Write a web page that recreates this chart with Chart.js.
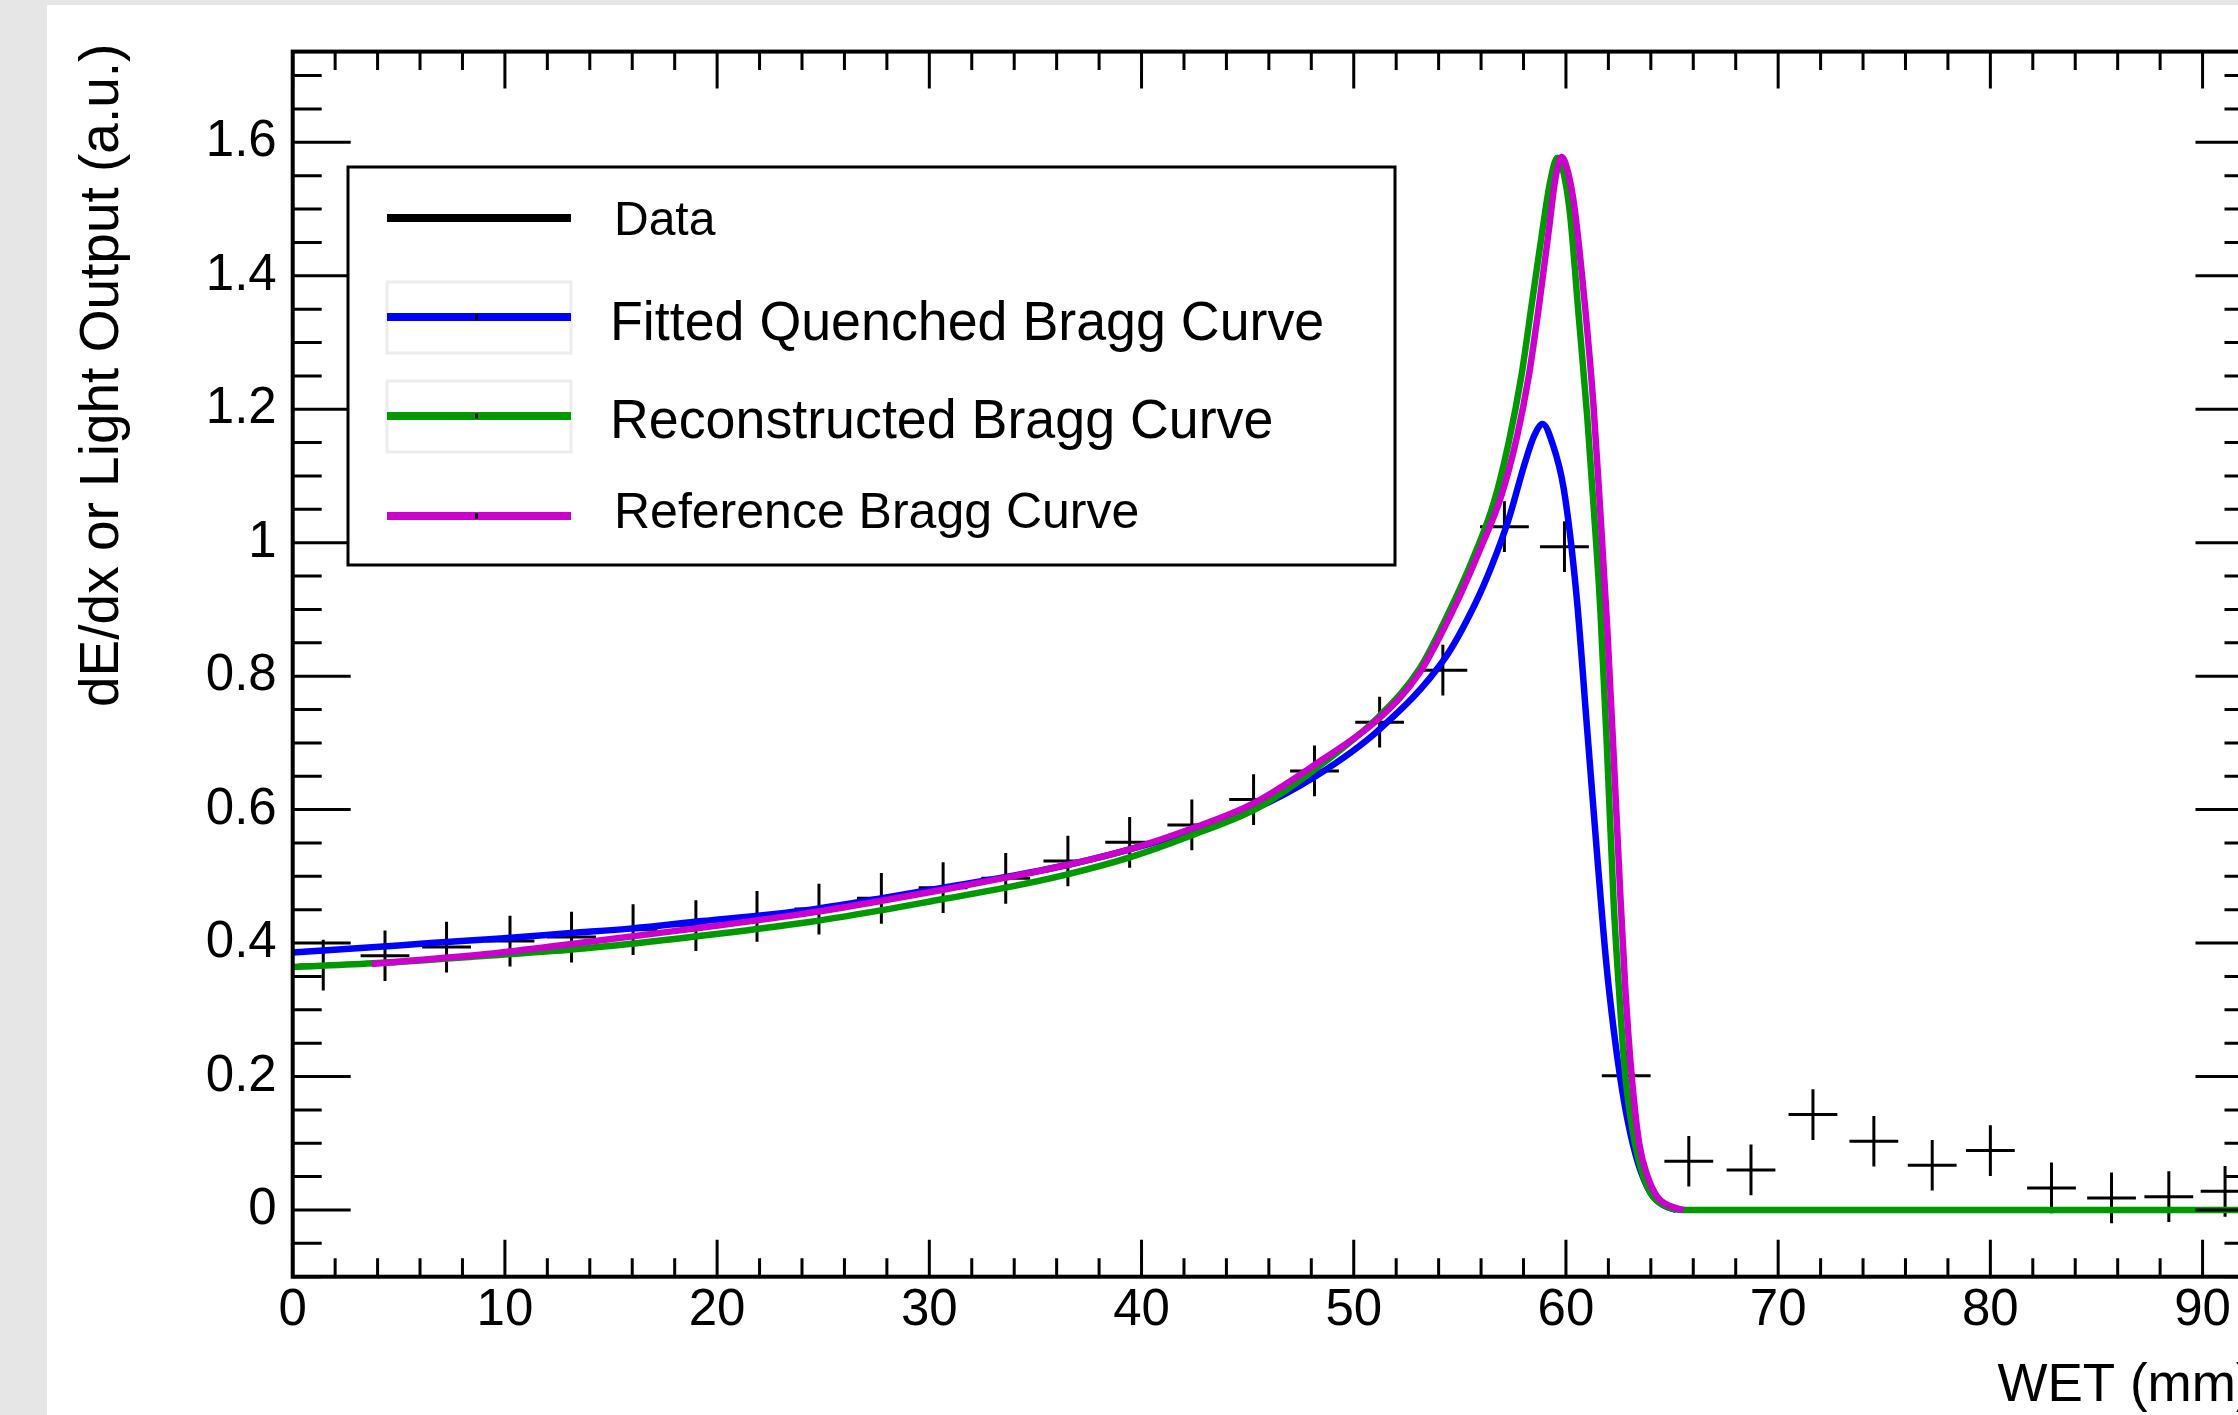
<!DOCTYPE html>
<html>
<head>
<meta charset="utf-8">
<title>Bragg curve</title>
<script src="https://cdn.jsdelivr.net/npm/chart.js@4.4.0/dist/chart.umd.min.js"></script>
<style>
  html, body { margin: 0; padding: 0; width: 2238px; height: 1415px; overflow: hidden; background: #e6e6e6; }
  #wrap { position: absolute; left: 47px; top: 5px; width: 2300px; height: 1410px; background: #fff; }
</style>
</head>
<body>
<div id="wrap"><canvas id="chart" width="2300" height="1410"></canvas></div>
<script>
// measured light output per WET bin
const dataX = [1.44, 4.35, 7.25, 10.24, 13.14, 16.04, 19.0, 21.88, 24.8, 27.74, 30.65, 33.6, 36.53, 39.44, 42.37, 45.28,
               48.15, 51.22, 54.2, 57.1, 59.93, 62.84, 65.79, 68.72, 71.64, 74.51, 77.26, 80.0, 82.88, 85.71, 88.41, 91.06];
const dataY = [0.367, 0.381, 0.394, 0.403, 0.409, 0.420, 0.426, 0.440, 0.451, 0.467, 0.483, 0.497, 0.523, 0.551, 0.577, 0.615,
               0.658, 0.731, 0.809, 1.024, 0.994, 0.201, 0.073, 0.060, 0.143, 0.103, 0.067, 0.089, 0.033, 0.018, 0.020, 0.028];
const dataXErr = [1.15, 1.15, 1.15, 1.15, 1.15, 1.15, 1.15, 1.15, 1.15, 1.15, 1.15, 1.15, 1.15, 1.15, 1.15, 1.15,
                  1.15, 1.15, 1.15, 1.15, 1.15, 1.15, 1.15, 1.15, 1.15, 1.15, 1.15, 1.15, 1.15, 1.15, 1.15, 1.15];
const dataYErr = [0.038, 0.038, 0.038, 0.038, 0.038, 0.038, 0.038, 0.038, 0.038, 0.038, 0.038, 0.038, 0.038, 0.038, 0.038, 0.038,
                  0.038, 0.038, 0.038, 0.038, 0.038, 0.038, 0.038, 0.038, 0.038, 0.038, 0.038, 0.038, 0.038, 0.038, 0.038, 0.038];

// fitted quenched curve (blue)
const fitX = [0, 3.2, 6.5, 9.8, 13.1, 16.0, 19.3, 22.5, 24.8, 27.7, 30.65, 33.6, 36.5, 39.4, 42.4, 45.25, 48.2, 51.2,
              54.3, 55.7, 56.5, 57.3, 58.05, 58.5, 58.9, 59.35, 59.9, 60.5, 61.0, 61.5, 61.9, 62.25, 62.55, 62.9, 63.4,
              64.0, 64.6, 65.2];
const fitY = [0.386, 0.3925, 0.400, 0.407, 0.415, 0.422, 0.433, 0.443, 0.452, 0.467, 0.483, 0.499, 0.517, 0.540, 0.568, 0.600, 0.650, 0.720,
              0.827, 0.907, 0.965, 1.035, 1.118, 1.160, 1.178, 1.150, 1.080, 0.920, 0.720, 0.520, 0.370, 0.270, 0.200, 0.135, 0.070,
              0.025, 0.007, 0.0];

// reconstructed curve (green)
const recoX = [0, 4.0, 9.1, 13.7, 18.2, 24.0, 27.7, 30.65, 33.6, 36.5, 39.4, 42.4, 45.5, 48.2, 51.2, 53.1, 54.5, 55.6,
               56.6, 57.3, 57.9, 58.4, 58.9, 59.25, 59.6, 59.95, 60.2, 60.6, 61.0, 61.3, 61.62, 61.95, 62.25, 62.5, 62.8,
               63.25, 63.65, 64.1, 64.7, 65.5, 70, 80, 92.4];
const recoY = [0.364, 0.370, 0.381, 0.392, 0.407, 0.430, 0.449, 0.466, 0.483, 0.503, 0.528, 0.562, 0.603, 0.661, 0.740, 0.811, 0.897, 0.975,
               1.060, 1.150, 1.250, 1.360, 1.470, 1.540, 1.577, 1.545, 1.490, 1.340, 1.190, 1.056, 0.900, 0.680, 0.460, 0.330, 0.200,
               0.100, 0.050, 0.020, 0.006, 0.0, 0, 0, 0];

// reference curve (magenta)
const refX = [3.72, 9.14, 13.69, 18.24, 23.9, 27.7, 30.65, 33.6, 36.5, 39.4, 42.4, 45.25, 48.2, 51.2, 53.1, 54.8, 55.95,
              56.95, 57.7, 58.25, 58.75, 59.2, 59.5, 59.8, 60.1, 60.4, 60.9, 61.3, 61.6, 61.95, 62.25, 62.55, 62.8, 63.1,
              63.45, 63.85, 64.3, 64.9, 65.55];
const refY = [0.3687, 0.3835, 0.401, 0.419, 0.443, 0.463, 0.480, 0.498, 0.517, 0.540, 0.572, 0.609, 0.668, 0.737, 0.805, 0.907, 0.990,
              1.070, 1.160, 1.250, 1.360, 1.470, 1.545, 1.578, 1.555, 1.503, 1.354, 1.205, 1.056, 0.870, 0.680, 0.480, 0.330, 0.200,
              0.100, 0.050, 0.020, 0.006, 0.0];

const xTicks = [0, 10, 20, 30, 40, 50, 60, 70, 80, 90];
const xTickLabels = ['0', '10', '20', '30', '40', '50', '60', '70', '80', '90'];
const yTicks = [0, 0.2, 0.4, 0.6, 0.8, 1.0, 1.2, 1.4, 1.6];
const yTickLabels = ['0', '0.2', '0.4', '0.6', '0.8', '1', '1.2', '1.4', '1.6'];

const xTitle = 'WET (mm)';
const yTitle = 'dE/dx or Light Output (a.u.)';

const toPoints = (xs, ys) => xs.map((x, i) => ({ x: x, y: ys[i] }));

Chart.defaults.font.family = '"Liberation Sans", Arial, Helvetica, sans-serif';
Chart.defaults.color = '#000';

// error bar crosses, drawn right after the (invisible) data dataset so curves cover them
const crossBars = {
  id: 'crossBars',
  afterDatasetDraw(chart, args) {
    if (args.index !== 0) return;
    const { ctx, chartArea: a, scales: { x, y } } = chart;
    ctx.save();
    ctx.beginPath();
    ctx.rect(a.left, a.top, a.right - a.left, a.bottom - a.top);
    ctx.clip();
    ctx.strokeStyle = '#000';
    ctx.lineWidth = 3;
    ctx.beginPath();
    dataX.forEach((vx, i) => {
      const px = x.getPixelForValue(vx), py = y.getPixelForValue(dataY[i]);
      ctx.moveTo(x.getPixelForValue(vx - dataXErr[i]), py);
      ctx.lineTo(x.getPixelForValue(vx + dataXErr[i]), py);
      ctx.moveTo(px, y.getPixelForValue(dataY[i] - dataYErr[i]));
      ctx.lineTo(px, y.getPixelForValue(dataY[i] + dataYErr[i]));
    });
    ctx.stroke();
    ctx.restore();
  }
};

// ROOT style frame with inward ticks on all four sides, plus the y title (right-aligned at the top)
const rootFrame = {
  id: 'rootFrame',
  afterDatasetsDraw(chart) {
    const { ctx, chartArea: a, scales: { x, y } } = chart;
    ctx.save();
    ctx.strokeStyle = '#000';
    ctx.lineWidth = 3;
    ctx.beginPath();
    for (let k = 0; k * 2 <= x.max; k++) {
      const px = x.getPixelForValue(k * 2);
      const len = k % 5 === 0 ? 37 : 18.5;
      ctx.moveTo(px, a.bottom); ctx.lineTo(px, a.bottom - len);
      ctx.moveTo(px, a.top); ctx.lineTo(px, a.top + len);
    }
    for (let k = Math.ceil(y.min / 0.05); k * 0.05 <= y.max + 1e-9; k++) {
      const py = y.getPixelForValue(k * 0.05);
      const len = k % 4 === 0 ? 58 : 29;
      ctx.moveTo(a.left, py); ctx.lineTo(a.left + len, py);
      ctx.moveTo(a.right, py); ctx.lineTo(a.right - len, py);
    }
    ctx.stroke();
    ctx.lineWidth = 4;
    ctx.strokeRect(a.left, a.top, a.right - a.left, a.bottom - a.top);

    ctx.translate(56, a.top - 8);
    ctx.rotate(-Math.PI / 2);
    ctx.fillStyle = '#000';
    ctx.font = '55px ' + Chart.defaults.font.family;
    ctx.textAlign = 'right';
    ctx.textBaseline = 'middle';
    ctx.fillText(yTitle, 0, 0);
    ctx.restore();
  }
};

// boxed legend like the TLegend of the original
const legendRows = [
  { y: 213, textX: 567, base: 230, size: 48, sx: 1 },
  { y: 312, textX: 563, base: 335, size: 56, sx: 0.96, frame: true },
  { y: 411, textX: 563, base: 433, size: 56, sx: 0.96, frame: true },
  { y: 511, textX: 567, base: 523, size: 50, sx: 1 }
];
const rootLegend = {
  id: 'rootLegend',
  afterDraw(chart) {
    const ctx = chart.ctx;
    const family = Chart.defaults.font.family;
    ctx.save();
    ctx.fillStyle = '#fff';
    ctx.fillRect(301, 162, 1047, 398);
    ctx.strokeStyle = '#000';
    ctx.lineWidth = 3;
    ctx.strokeRect(301, 162, 1047, 398);
    chart.data.datasets.forEach((ds, i) => {
      const r = legendRows[i];
      if (r.frame) {
        ctx.strokeStyle = '#ececec';
        ctx.lineWidth = 3;
        ctx.strokeRect(340, r.y - 35, 184, 71);
      }
      ctx.strokeStyle = ds.borderColor;
      ctx.lineWidth = 8;
      ctx.beginPath();
      ctx.moveTo(340, r.y); ctx.lineTo(524, r.y);
      ctx.stroke();
      if (i > 0) { ctx.fillStyle = '#000'; ctx.fillRect(428, r.y - 2.5, 3, 5); }
      ctx.save();
      ctx.translate(r.textX, r.base);
      ctx.scale(r.sx, 1);
      ctx.fillStyle = '#000';
      ctx.font = r.size + 'px ' + family;
      ctx.textBaseline = 'alphabetic';
      ctx.fillText(ds.label, 0, 0);
      ctx.restore();
    });
    ctx.restore();
  }
};

const curve = (label, color, pts, order) => ({
  label: label, data: pts, borderColor: color, borderWidth: 6.5, pointRadius: 0,
  cubicInterpolationMode: 'monotone', fill: false, clip: 0, order: order
});

new Chart(document.getElementById('chart'), {
  type: 'line',
  data: {
    datasets: [
      { label: 'Data', data: toPoints(dataX, dataY), borderColor: '#000', showLine: false, pointRadius: 0, order: 3 },
      curve('Fitted Quenched Bragg Curve', '#0000ff', toPoints(fitX, fitY), 2),
      curve('Reconstructed Bragg Curve', '#009900', toPoints(recoX, recoY), 1),
      curve('Reference Bragg Curve', '#cc00cc', toPoints(refX, refY), 0)
    ]
  },
  options: {
    responsive: false,
    animation: false,
    devicePixelRatio: 1,
    layout: { padding: { left: 0, top: 38, right: 93.5, bottom: 0 } },
    plugins: { legend: { display: false }, tooltip: { enabled: false } },
    scales: {
      x: {
        type: 'linear', min: 0, max: 92.4,
        grid: { display: false, drawTicks: false },
        border: { display: false },
        afterBuildTicks: s => { s.ticks = xTicks.map(v => ({ value: v })); },
        afterFit: s => { s.height = 138.3; },
        ticks: { autoSkip: false, maxRotation: 0, padding: 4, font: { size: 51 }, callback: (v, i) => xTickLabels[i] },
        title: { display: true, text: xTitle, align: 'end', font: { size: 53, lineHeight: 1 }, padding: { top: 0, bottom: 2 } }
      },
      y: {
        type: 'linear', min: -0.1, max: 1.736,
        grid: { display: false, drawTicks: false },
        border: { display: false },
        afterBuildTicks: s => { s.ticks = yTicks.map(v => ({ value: v })); },
        afterFit: s => { s.width = 245.7; },
        ticks: { padding: 16, font: { size: 51 }, callback: (v, i) => yTickLabels[i] }
      }
    }
  },
  plugins: [crossBars, rootFrame, rootLegend]
});
</script>
</body>
</html>
